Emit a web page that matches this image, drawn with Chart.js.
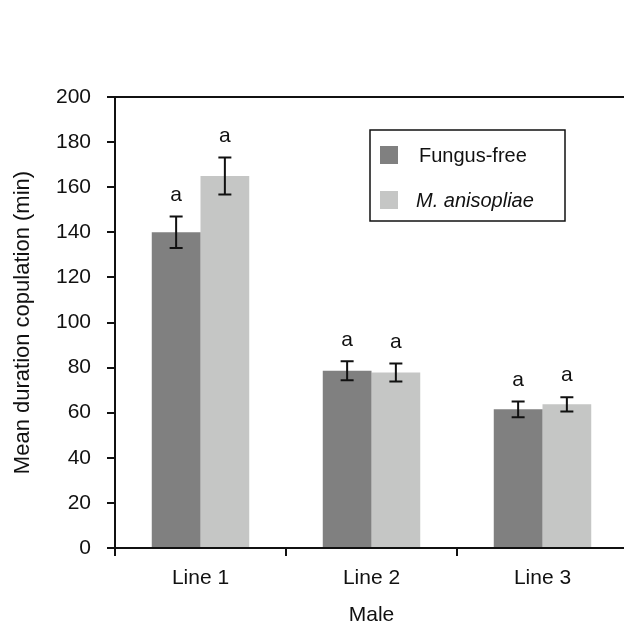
<!DOCTYPE html>
<html>
<head>
<meta charset="utf-8">
<script src="https://cdn.jsdelivr.net/npm/chart.js@4/dist/chart.umd.min.js"></script>
<style>
	html, body {margin: 0; padding: 0; overflow: hidden; background: #fff;}
	#wrap {width: 640px; height: 622px;}
</style>
</head>
<body>
<div id="wrap"><canvas id="chart" width="640" height="622"></canvas></div>
<script>
const categories = ['Line 1', 'Line 2', 'Line 3']
const seriesNames = ['Fungus-free', 'M. anisopliae']
const fungusFree = [140, 78.6, 61.5]
const fungusFreeErr = [7, 4.2, 3.5]
const anisopliae = [165, 77.8, 63.7]
const anisopliaeErr = [8.2, 4, 3.2]
const letters = [['a', 'a', 'a'], ['a', 'a', 'a']]
const yTicks = [0, 20, 40, 60, 80, 100, 120, 140, 160, 180, 200]

const font = 'Liberation Sans, Arial, Helvetica, sans-serif'
const errors = [fungusFreeErr, anisopliaeErr]

const errorBars = {
	id: 'errorBars',
	afterDatasetsDraw(chart) {
		const {ctx, scales: {y}} = chart
		ctx.save()
		ctx.strokeStyle = '#111'
		ctx.lineWidth = 2
		ctx.fillStyle = '#111'
		ctx.font = '21px ' + font
		ctx.textAlign = 'center'
		ctx.textBaseline = 'bottom'
		chart.data.datasets.forEach((ds, di) => {
			const meta = chart.getDatasetMeta(di)
			meta.data.forEach((bar, i) => {
				const v = ds.data[i]
				const e = errors[di][i]
				const top = y.getPixelForValue(v + e)
				const bottom = y.getPixelForValue(v - e)
				const x = bar.x
				ctx.beginPath()
				ctx.moveTo(x, top); ctx.lineTo(x, bottom)
				ctx.moveTo(x - 6.5, top); ctx.lineTo(x + 6.5, top)
				ctx.moveTo(x - 6.5, bottom); ctx.lineTo(x + 6.5, bottom)
				ctx.stroke()
				ctx.fillText(letters[di][i], x, top - 11)
			})
		})
		ctx.restore()
	},
}

const boxLegend = {
	id: 'boxLegend',
	afterDraw(chart) {
		const {ctx, chartArea} = chart
		const left = chartArea.left + 255
		const top = chartArea.top + 33
		ctx.save()
		ctx.strokeStyle = '#111'
		ctx.lineWidth = 1.5
		ctx.strokeRect(left, top, 195, 91)
		chart.data.datasets.forEach((ds, di) => {
			const rowY = top + 25 + di * 45
			ctx.fillStyle = ds.backgroundColor
			ctx.fillRect(left + 10, rowY - 9, 18, 18)
			ctx.fillStyle = '#111'
			ctx.font = (di == 1 ? 'italic ' : '') + '20px ' + font
			ctx.textAlign = 'left'
			ctx.textBaseline = 'middle'
			ctx.fillText(ds.label, left + (di == 1 ? 46 : 49), rowY + 1)
		})
		ctx.restore()
	},
}

new Chart(document.getElementById('chart'), {
	type: 'bar',
	data: {
		labels: categories,
		datasets: [{
			label: seriesNames[0],
			data: fungusFree,
			backgroundColor: '#808080',
			borderWidth: 0,
		}, {
			label: seriesNames[1],
			data: anisopliae,
			backgroundColor: '#c5c6c5',
			borderWidth: 0,
		}],
	},
	options: {
		responsive: false,
		animation: false,
		events: [],
		categoryPercentage: 0.57,
		barPercentage: 1,
		layout: {padding: {top: 97, right: 12, left: 0, bottom: 0}},
		scales: {
			x: {
				afterFit(scale) { scale.height = 74 },
				grid: {
					offset: true,
					drawOnChartArea: false,
					color: '#111',
					lineWidth: 2,
					tickLength: 8,
				},
				border: {color: '#111', width: 2},
				ticks: {color: '#111', font: {family: font, size: 21}, padding: 10},
				title: {display: true, text: 'Male', color: '#111', font: {family: font, size: 21}, padding: {top: 4, bottom: -6}},
			},
			y: {
				min: 0,
				max: 200,
				afterFit(scale) { scale.width = 115 },
				afterBuildTicks(scale) { scale.ticks = yTicks.map(value => ({value})) },
				grid: {
					drawOnChartArea: true,
					color: ctx => ctx.tick && ctx.tick.value === 200 ? '#111' : 'rgba(0,0,0,0)',
					tickColor: '#111',
					lineWidth: 2,
					tickLength: 8,
				},
				border: {color: '#111', width: 2},
				ticks: {color: '#111', font: {family: font, size: 21}, padding: 16},
				title: {display: true, text: 'Mean duration copulation (min)', color: '#111', font: {family: font, size: 22}, padding: {top: 10}},
			},
		},
		plugins: {
			legend: {display: false},
			tooltip: {enabled: false},
		},
	},
	plugins: [errorBars, boxLegend],
})
</script>
</body>
</html>
